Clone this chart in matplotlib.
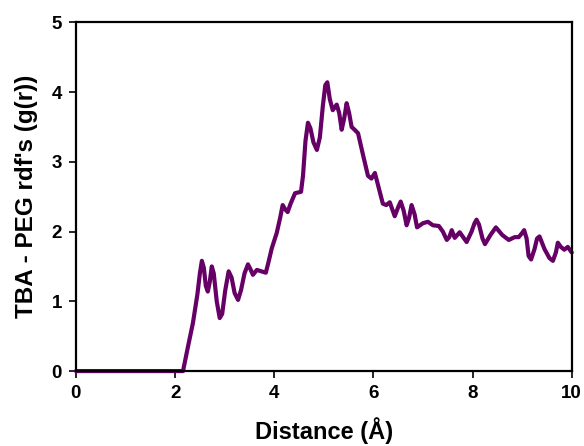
import matplotlib.pyplot as plt

# g(r)
distance = [0.00, 2.05, 2.16, 2.26, 2.36, 2.45, 2.50, 2.54, 2.58, 2.62,
            2.66, 2.70, 2.74, 2.78, 2.84, 2.90, 2.95, 3.01, 3.08, 3.14,
            3.20, 3.27, 3.33, 3.40, 3.47, 3.52, 3.57, 3.65, 3.74, 3.83,
            3.88, 3.95, 4.05, 4.12, 4.17, 4.22, 4.27, 4.33, 4.42, 4.54,
            4.58, 4.63, 4.68, 4.73, 4.79, 4.86, 4.92, 4.98, 5.03, 5.07,
            5.12, 5.18, 5.26, 5.31, 5.36, 5.41, 5.46, 5.51, 5.56, 5.62,
            5.69, 5.79, 5.89, 5.96, 6.03, 6.11, 6.19, 6.26, 6.33, 6.43,
            6.50, 6.55, 6.61, 6.67, 6.72, 6.77, 6.83, 6.88, 7.00, 7.10,
            7.20, 7.32, 7.40, 7.48, 7.53, 7.58, 7.64, 7.74, 7.88, 7.98,
            8.04, 8.08, 8.13, 8.20, 8.25, 8.36, 8.47, 8.60, 8.73, 8.85,
            8.93, 9.00, 9.04, 9.09, 9.13, 9.18, 9.25, 9.30, 9.35, 9.45,
            9.55, 9.62, 9.68, 9.72, 9.78, 9.85, 9.92, 10.00]
gr = [0.00, 0.00, 0.00, 0.35, 0.69, 1.10, 1.40, 1.58, 1.48, 1.22,
      1.14, 1.28, 1.50, 1.40, 1.00, 0.76, 0.82, 1.15, 1.43, 1.34,
      1.12, 1.02, 1.16, 1.40, 1.53, 1.46, 1.38, 1.45, 1.43, 1.41,
      1.55, 1.76, 1.98, 2.20, 2.38, 2.32, 2.28, 2.40, 2.55, 2.57,
      2.80, 3.30, 3.56, 3.48, 3.28, 3.17, 3.35, 3.80, 4.10, 4.14,
      3.90, 3.74, 3.82, 3.70, 3.46, 3.62, 3.84, 3.70, 3.50, 3.46,
      3.41, 3.10, 2.80, 2.76, 2.84, 2.62, 2.40, 2.38, 2.42, 2.22,
      2.35, 2.43, 2.30, 2.09, 2.20, 2.38, 2.25, 2.06, 2.12, 2.14,
      2.09, 2.08, 2.00, 1.88, 1.92, 2.02, 1.91, 1.99, 1.85, 2.00,
      2.12, 2.17, 2.10, 1.90, 1.82, 1.95, 2.06, 1.95, 1.88, 1.92,
      1.92, 1.98, 2.02, 1.90, 1.65, 1.60, 1.75, 1.90, 1.93, 1.75,
      1.62, 1.58, 1.70, 1.84, 1.78, 1.74, 1.78, 1.70]

xticks = [0, 2, 4, 6, 8, 10]
yticks = [0, 1, 2, 3, 4, 5]

plt.rcParams['font.family'] = ['Liberation Sans', 'DejaVu Sans']

fig = plt.figure(figsize=(5.84, 4.46), dpi=100)
ax = fig.add_axes([0.130, 0.168, 0.849, 0.782])

ax.plot(distance, gr, color='#660066', lw=3.0,
        solid_joinstyle='round', solid_capstyle='round', clip_on=False)

ax.set_xlim(0, 10)
ax.set_ylim(0, 5)
ax.set_xticks(xticks)
ax.set_yticks(yticks)
ax.tick_params(direction='out', length=5, width=1.2, labelsize=13.5, pad=5)
for lab in ax.get_xticklabels() + ax.get_yticklabels():
    lab.set_fontweight('bold')
for sp in ax.spines.values():
    sp.set_linewidth(1.6)

ax.set_xlabel('Distance (Å)', fontsize=17, fontweight='bold', labelpad=11)
ax.set_ylabel("TBA - PEG rdf's (g(r))", fontsize=17.5, fontweight='bold', labelpad=10)

plt.savefig('out.png', dpi=100)
plt.close()
